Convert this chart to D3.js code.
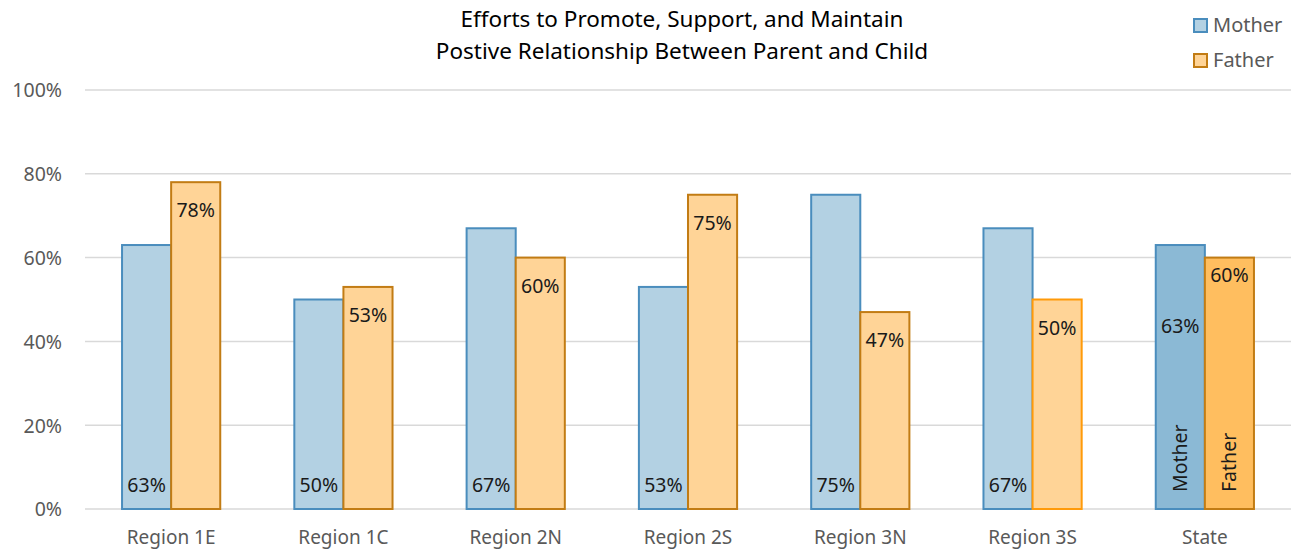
<!DOCTYPE html>
<html>
<head>
<meta charset="utf-8">
<script src="https://cdn.jsdelivr.net/npm/d3@7"></script>
<style>
  html, body { margin: 0; padding: 0; background: #fff; }
  svg { display: block; font-family: "Noto Sans", "Open Sans", sans-serif; }
</style>
</head>
<body>
<svg id="chart" width="1296" height="552"></svg>
<script>
const categories = ["Region 1E", "Region 1C", "Region 2N", "Region 2S", "Region 3N", "Region 3S", "State"];
const seriesNames = ["Mother", "Father"];
const motherValues = [63, 50, 67, 53, 75, 67, 63];
const fatherValues = [78, 53, 60, 75, 47, 50, 60];
const yTicks = [0, 20, 40, 60, 80, 100];
const titleLines = ["Efforts to Promote, Support, and Maintain", "Postive Relationship Between Parent and Child"];

const FONT = '"Noto Sans", "Open Sans", sans-serif';
const svg = d3.select("#chart");
const margin = { left: 85, right: 5, top: 90, bottom: 43 };
const W = 1296, H = 552;

const x = d3.scaleBand().domain(categories).range([margin.left, W - margin.right]).paddingInner(0.43).paddingOuter(0.215);
const xs = d3.scaleBand().domain(seriesNames).range([0, x.bandwidth()]);
const y = d3.scaleLinear().domain([0, 100]).range([H - margin.bottom, margin.top]);

// gridlines
svg.append("g").selectAll("line").data(yTicks).join("line")
  .attr("x1", margin.left).attr("x2", W - margin.right)
  .attr("y1", d => y(d)).attr("y2", d => y(d))
  .attr("stroke", "#D9D9D9").attr("stroke-width", 1.5);

// y axis
const yAxis = d3.axisLeft(y).tickValues(yTicks).tickFormat(d => d + "%").tickSize(0).tickPadding(23);
const yg = svg.append("g").attr("transform", `translate(${margin.left},0)`).call(yAxis)
  .attr("font-family", FONT);
yg.select(".domain").remove();
yg.selectAll("text").attr("fill", "#595959").attr("font-size", 19.5).attr("dy", "0.35em");

// x axis
const xAxis = d3.axisBottom(x).tickSize(0).tickPadding(22);
const xg = svg.append("g").attr("transform", `translate(0,${H - margin.bottom})`).call(xAxis)
  .attr("font-family", FONT);
xg.select(".domain").remove();
xg.selectAll("text").attr("fill", "#595959").attr("font-size", 19);

const styles = {
  Mother: { fill: "#B3D1E3", stroke: "#4A8DBD", stateFill: "#8BB9D5" },
  Father: { fill: "#FFD497", stroke: "#C27C14", stateFill: "#FFBE5F" }
};
const fatherStrokeOverride = { "Region 3S": "#FF9A0A" };

const rows = categories.map((c, i) => ({ cat: c, Mother: motherValues[i], Father: fatherValues[i] }));

const groups = svg.append("g").selectAll("g").data(rows).join("g")
  .attr("transform", d => `translate(${x(d.cat)},0)`);

groups.selectAll("rect").data(d => seriesNames.map(s => ({ s, cat: d.cat, v: d[s] }))).join("rect")
  .attr("x", d => xs(d.s)).attr("width", xs.bandwidth())
  .attr("y", d => y(d.v)).attr("height", d => y(0) - y(d.v))
  .attr("fill", d => d.cat === "State" ? styles[d.s].stateFill : styles[d.s].fill)
  .attr("stroke", d => (d.s === "Father" && fatherStrokeOverride[d.cat]) || styles[d.s].stroke)
  .attr("stroke-width", 2);

// data labels
groups.each(function(d) {
  const g = d3.select(this);
  const cx = s => xs(s) + xs.bandwidth() / 2;
  if (d.cat !== "State") {
    g.append("text").attr("x", cx("Mother")).attr("y", y(0) - 17)
      .attr("text-anchor", "middle").attr("font-size", 19.5).attr("fill", "#1a1a1a").text(d.Mother + "%");
    g.append("text").attr("x", cx("Father")).attr("y", y(d.Father) + 35)
      .attr("text-anchor", "middle").attr("font-size", 19.5).attr("fill", "#1a1a1a").text(d.Father + "%");
  } else {
    g.append("text").attr("x", cx("Mother")).attr("y", y(d.Mother) + 88)
      .attr("text-anchor", "middle").attr("font-size", 19.5).attr("fill", "#1a1a1a").text(d.Mother + "%");
    g.append("text").attr("x", cx("Father")).attr("y", y(d.Father) + 24)
      .attr("text-anchor", "middle").attr("font-size", 19.5).attr("fill", "#1a1a1a").text(d.Father + "%");
    seriesNames.forEach(s => {
      const tx = cx(s) + 7, ty = y(0) - 17;
      g.append("text").attr("transform", `translate(${tx},${ty}) rotate(-90)`)
        .attr("text-anchor", "start").attr("font-size", 19.5).attr("fill", "#1a1a1a").text(s);
    });
  }
});

// title
svg.append("g").selectAll("text").data(titleLines).join("text")
  .attr("x", 682).attr("y", (d, i) => 27 + i * 32)
  .attr("text-anchor", "middle").attr("font-size", 22.5).attr("fill", "#000").text(d => d);

// legend
const leg = svg.append("g").selectAll("g").data(seriesNames).join("g")
  .attr("transform", (d, i) => `translate(1194,${19 + i * 35})`);
leg.append("rect").attr("width", 13).attr("height", 13)
  .attr("fill", d => styles[d].fill).attr("stroke", d => styles[d].stroke).attr("stroke-width", 2);
leg.append("text").attr("x", 19).attr("y", 13).attr("font-size", 20).attr("fill", "#595959").text(d => d);
</script>
</body>
</html>
